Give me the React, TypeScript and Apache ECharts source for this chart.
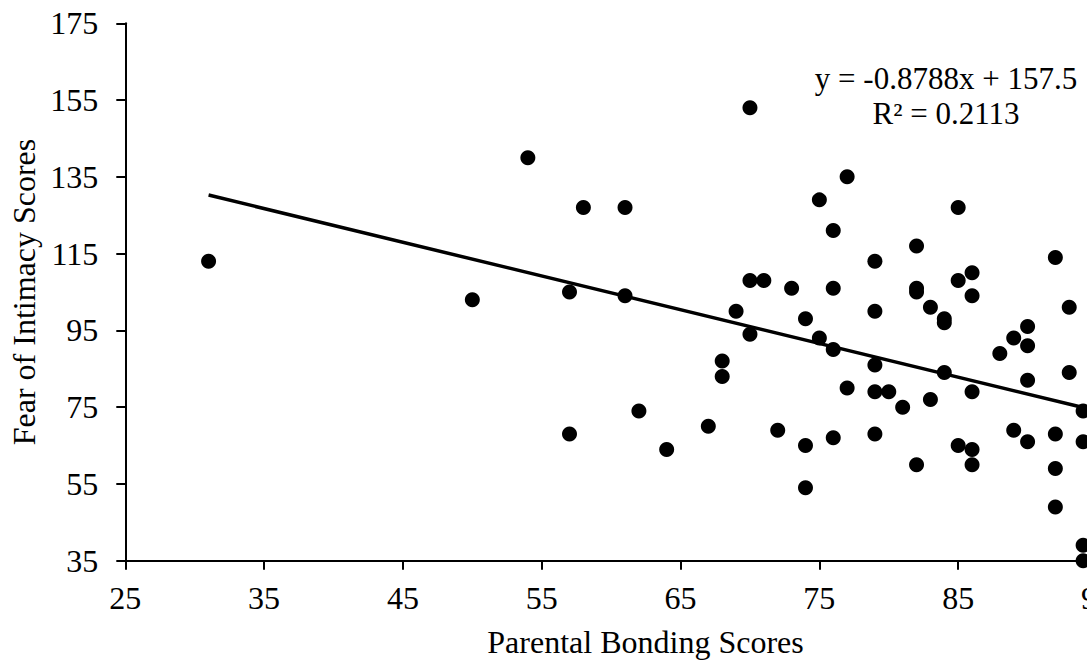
import React, { useEffect, useRef } from "react";
import * as echarts from "echarts";

// Parental Bonding Scores (x) and Fear of Intimacy Scores (y), paired by index
const bondingScores = [
  31, 50, 54, 57, 57, 58, 61, 61, 62, 64,
  67, 68, 68, 69, 70, 70, 70, 71, 72, 73,
  74, 74, 74, 75, 75, 76, 76, 76, 76, 77,
  77, 79, 79, 79, 79, 79, 80, 81, 82, 82,
  82, 82, 83, 83, 84, 84, 84, 85, 85, 85,
  86, 86, 86, 86, 86, 88, 89, 89, 90, 90,
  90, 90, 92, 92, 92, 92, 93, 93, 94, 94,
  94, 94,
];
const intimacyScores = [
  113, 103, 140, 105, 68, 127, 127, 104, 74, 64,
  70, 87, 83, 100, 153, 108, 94, 108, 69, 106,
  98, 65, 54, 129, 93, 121, 106, 90, 67, 135,
  80, 113, 100, 86, 79, 68, 79, 75, 117, 106,
  105, 60, 101, 77, 98, 97, 84, 127, 108, 65,
  110, 104, 79, 64, 60, 89, 93, 69, 96, 91,
  82, 66, 114, 68, 59, 49, 101, 84, 74, 66,
  39, 35,
];

// Linear trendline reported on the chart
const trendSlope = -0.8788;
const trendIntercept = 157.5;
const trendR2 = 0.2113;

const xTitle = "Parental Bonding Scores";
const yTitle = "Fear of Intimacy Scores";

const FONT = "'Liberation Serif', 'Times New Roman', serif";

export default function App() {
  const ref = useRef<HTMLDivElement>(null);

  useEffect(() => {
    if (!ref.current) return;
    const chart = echarts.init(ref.current, null, { renderer: "svg" });

    const points = bondingScores.map((x, i) => [x, intimacyScores[i]]);
    const xMin = Math.min(...bondingScores);
    const xMax = Math.max(...bondingScores);
    const trend = [
      [xMin, trendSlope * xMin + trendIntercept],
      [xMax, trendSlope * xMax + trendIntercept],
    ];
    const eqText =
      "y = " + trendSlope.toFixed(4) + "x + " + trendIntercept.toFixed(1) +
      "\nR² = " + trendR2.toFixed(4);

    chart.setOption({
      animation: false,
      backgroundColor: "#ffffff",
      grid: { left: 125.3, top: 23.3, right: 23, bottom: 100.3, containLabel: false },
      xAxis: {
        type: "value",
        min: 25,
        max: 95,
        interval: 10,
        axisLine: { show: true, onZero: false, lineStyle: { color: "#000", width: 2 } },
        axisTick: { show: true, length: 9, lineStyle: { color: "#000", width: 2 } },
        axisLabel: { color: "#000", fontFamily: FONT, fontSize: 32, margin: 21 },
        splitLine: { show: false },
      },
      yAxis: {
        type: "value",
        min: 35,
        max: 175,
        interval: 20,
        axisLine: { show: true, onZero: false, lineStyle: { color: "#000", width: 2 } },
        axisTick: { show: true, length: 9, lineStyle: { color: "#000", width: 2 } },
        axisLabel: { color: "#000", fontFamily: FONT, fontSize: 32, margin: 27 },
        splitLine: { show: false },
      },
      graphic: [
        {
          type: "text",
          x: 645.5,
          y: 642,
          style: {
            text: xTitle,
            fill: "#000",
            font: "32px " + FONT,
            textAlign: "center",
            textVerticalAlign: "middle",
          },
        },
        {
          type: "text",
          x: 24,
          y: 292,
          rotation: Math.PI / 2,
          style: {
            text: yTitle,
            fill: "#000",
            font: "32px " + FONT,
            textAlign: "center",
            textVerticalAlign: "middle",
          },
        },
        {
          type: "text",
          x: 946,
          y: 96,
          style: {
            text: eqText,
            fill: "#000",
            font: "31px " + FONT,
            lineHeight: 35,
            textAlign: "center",
            textVerticalAlign: "middle",
          },
        },
      ],
      series: [
        {
          type: "scatter",
          data: points,
          symbol: "circle",
          symbolSize: 15,
          itemStyle: { color: "#000", opacity: 1 },
          clip: false,
          z: 3,
        },
        {
          type: "line",
          data: trend,
          showSymbol: false,
          symbol: "none",
          lineStyle: { color: "#000", width: 3.5 },
          clip: false,
          z: 2,
        },
      ],
    });

    return () => chart.dispose();
  }, []);

  return (
    <div
      style={{
        position: "fixed",
        left: 0,
        top: 0,
        width: 1087,
        height: 661,
        overflow: "hidden",
        background: "#fff",
      }}
    >
      <div ref={ref} style={{ width: 1120, height: 661 }} />
    </div>
  );
}
